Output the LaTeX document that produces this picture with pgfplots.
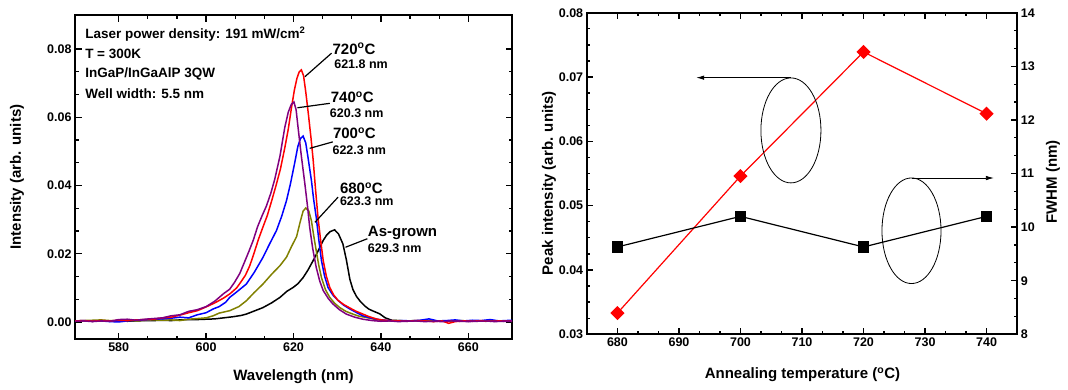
\documentclass[border=0pt]{standalone}
\usepackage{fontspec}
\setmainfont{Liberation Sans}
\usepackage{pgfplots}
\pgfplotsset{compat=1.18}
\usetikzlibrary{arrows.meta}
\definecolor{myolive}{RGB}{128,128,0}
\definecolor{mypurple}{RGB}{128,0,128}
\newcommand{\infofont}{\bfseries\fontsize{13.5}{16}\selectfont}
\newcommand{\tlabfont}{\bfseries\fontsize{15}{18}\selectfont}
\newcommand{\wlabfont}{\bfseries\fontsize{12.5}{15}\selectfont}
\pgfplotsset{
  mystyle/.style={
    scale only axis,
    axis line style={line width=1.8pt},
    tick style={black, line width=1.3pt},
    major tick length=6.5pt, minor tick length=3.5pt,
    tick align=inside,
    scaled y ticks=false, scaled x ticks=false,
    /pgf/number format/assume math mode=true,
    ticklabel style={font=\bfseries\fontsize{12.5}{14}\selectfont},
    label style={font=\bfseries\fontsize{15}{18}\selectfont},
  },
  twodec/.style={yticklabel style={/pgf/number format/fixed, /pgf/number format/fixed zerofill, /pgf/number format/precision=2}}
}
\begin{document}
\begin{tikzpicture}
\path[use as bounding box] (0,0) rectangle (1068pt,389pt);
% ---------------- left panel ----------------
\begin{axis}[mystyle, twodec, at={(75pt,50pt)}, anchor=south west,
  width=437pt, height=324pt,
  xmin=570, xmax=670, ymin=-0.005, ymax=0.09,
  xtick={580,600,620,640,660}, ytick={0,0.02,0.04,0.06,0.08},
  minor x tick num=2, minor y tick num=2,
  xlabel={Wavelength (nm)}, ylabel={Intensity (arb. units)},
  xlabel style={at={(axis description cs:0.5,-0.116)},anchor=center},
  ylabel style={at={(axis description cs:-0.133,0.5)},anchor=center},
  every axis plot/.append style={line width=1.5pt, no markers}]
\addplot[black] coordinates {(570,0.0002)(572,0.0003)(574,0.0002)(576,0.0003)(578,0.0002)(580,0.0003)(582,0.0002)(584,0.0003)(586,0.0004)(588,0.0004)(590,0.0005)(592,0.0004)(594,0.0006)(596,0.0007)(598,0.0007)(600,0.0008)(602,0.0009)(604,0.0012)(606,0.0015)(608,0.0019)(609.2,0.0023)(611,0.0032)(613,0.0042)(615,0.0056)(616.9,0.0072)(618.5,0.0090)(619.9,0.0101)(621,0.0112)(622.2,0.0130)(623.3,0.0152)(624.5,0.0180)(625.7,0.0210)(626.8,0.0239)(627.6,0.0255)(628.4,0.0265)(629.4,0.0270)(630.3,0.0258)(631.3,0.0229)(632.1,0.0182)(632.9,0.0125)(633.6,0.0095)(634.4,0.0075)(635.3,0.0060)(636.3,0.0047)(637.2,0.0038)(638.2,0.0032)(639.7,0.0024)(641,0.0012)(642.5,0.0005)(644,0.0004)(646,0.0003)(648,0.0004)(650,0.0003)(652,0.0002)(654,0.0003)(656,0.0002)(658,0.0003)(660,0.0002)(662,0.0003)(664,0.0002)(666,0.0003)(668,0.0002)(670,0.0003)};
\addplot[myolive] coordinates {(570,0.0003)(572,0.0004)(574,0.0005)(576,0.0006)(578,0.0004)(580,0.0003)(582,0.0004)(584,0.0003)(586,0.0005)(588,0.0006)(590,0.0005)(592,0.0006)(594,0.0004)(596,0.0008)(598,0.0010)(600,0.0012)(601.6,0.0018)(603,0.0026)(605.4,0.0033)(607.5,0.0045)(609.2,0.0062)(611,0.0086)(613,0.0111)(615,0.0140)(616.9,0.0165)(618.4,0.0190)(619.5,0.0220)(620.7,0.0250)(621.5,0.0292)(622.2,0.0325)(622.8,0.0334)(623.5,0.0325)(624.1,0.0297)(624.6,0.0255)(625.2,0.0209)(625.8,0.0165)(626.4,0.0130)(627.3,0.0095)(628.3,0.0072)(629.4,0.0055)(630.6,0.0042)(632,0.0031)(633.6,0.0023)(635,0.0017)(636.7,0.0013)(638.5,0.0008)(640,0.0005)(642,0.0003)(644,0.0004)(646,0.0002)(648,0.0003)(650,0.0004)(652,0.0002)(654,0.0003)(656,0.0002)(658,0.0004)(660,0.0003)(662,0.0002)(664,0.0003)(666,0.0002)(668,0.0003)(670,0.0002)};
\addplot[blue] coordinates {(570,0.0003)(572,0.0004)(574,0.0002)(576,0.0003)(578,0.0001)(580,0.0000)(582,0.0003)(584,0.0005)(586,0.0006)(588,0.0008)(590,0.0009)(592,0.0011)(594,0.0014)(596,0.0012)(598,0.0021)(600,0.0027)(601.6,0.0038)(603,0.0045)(604.5,0.0058)(605.4,0.0072)(607,0.0088)(609.2,0.0111)(611,0.0145)(613,0.0189)(614.5,0.0228)(616.1,0.0268)(617.3,0.0310)(618.4,0.0356)(619.3,0.0405)(620.3,0.0468)(621.0,0.0515)(621.6,0.0538)(622.2,0.0545)(622.8,0.0525)(623.3,0.0484)(624.1,0.0415)(624.6,0.0360)(625.2,0.0307)(625.8,0.0240)(626.4,0.0180)(627.1,0.0135)(627.9,0.0101)(629,0.0079)(630.2,0.0063)(631.5,0.0049)(632.9,0.0038)(634.5,0.0027)(635.9,0.0018)(637.5,0.0012)(639,0.0008)(641,0.0005)(643,0.0003)(645,0.0004)(647,0.0003)(649,0.0005)(651,0.0009)(653,0.0003)(655,0.0004)(657,0.0006)(659,0.0003)(661,0.0005)(663,0.0004)(665,0.0007)(667,0.0003)(670,0.0005)};
\addplot[red] coordinates {(570,0.0003)(572,0.0004)(574,0.0002)(576,0.0004)(578,0.0003)(580,0.0005)(582,0.0004)(584,0.0006)(586,0.0007)(588,0.0008)(590,0.0012)(592,0.0014)(594,0.0020)(596,0.0027)(598,0.0033)(600,0.0044)(602,0.0056)(604,0.0070)(605.5,0.0083)(607,0.0100)(608,0.0118)(609,0.0137)(610,0.0165)(611,0.0203)(612,0.0243)(613,0.0278)(614,0.0312)(615,0.0355)(616,0.0400)(617,0.0448)(618,0.0510)(618.8,0.0565)(619.5,0.0625)(620.2,0.0680)(620.8,0.0715)(621.3,0.0733)(621.8,0.0739)(622.3,0.0722)(622.8,0.0675)(623.4,0.0610)(624.0,0.0540)(624.5,0.0475)(625.0,0.0395)(625.6,0.0307)(626.2,0.0240)(626.8,0.0180)(627.5,0.0135)(628.3,0.0101)(629.2,0.0079)(630.2,0.0063)(631.5,0.0051)(632.9,0.0041)(634.2,0.0032)(635.9,0.0023)(637.2,0.0016)(638.9,0.0009)(640,0.0006)(642,0.0004)(644,0.0003)(646,0.0002)(648,0.0004)(650,0.0003)(652,0.0001)(654,0.0003)(655.5,-0.0004)(657,0.0001)(659,0.0003)(661,0.0002)(663,0.0004)(665,0.0002)(667,0.0003)(670,0.0002)};
\addplot[mypurple] coordinates {(570,0.0002)(572,0.0003)(574,0.0001)(576,0.0003)(578,0.0002)(580,0.0007)(582,0.0008)(584,0.0005)(586,0.0008)(588,0.0010)(590,0.0012)(592,0.0018)(594,0.0021)(596,0.0031)(598,0.0036)(600,0.0045)(602,0.0061)(604,0.0083)(605.4,0.0096)(606.5,0.0116)(607.7,0.0142)(608.8,0.0176)(609.8,0.0207)(610.8,0.0240)(611.8,0.0280)(612.8,0.0311)(613.8,0.0340)(614.8,0.0377)(615.7,0.0418)(616.9,0.0486)(618.0,0.0570)(618.8,0.0615)(619.5,0.0638)(620.1,0.0645)(620.6,0.0622)(621.0,0.0575)(621.8,0.0486)(622.6,0.0405)(623.2,0.0340)(623.7,0.0278)(624.4,0.0215)(625.2,0.0160)(626.0,0.0120)(626.8,0.0092)(628.0,0.0068)(629.0,0.0053)(630.5,0.0036)(632.1,0.0023)(634,0.0014)(635.9,0.0008)(638,0.0004)(640,0.0002)(642,0.0003)(644,0.0001)(646,0.0002)(648,0.0003)(650,0.0001)(652,0.0002)(654,0.0001)(656,0.0003)(658,0.0002)(660,0.0001)(662,0.0002)(664,0.0003)(666,0.0001)(668,0.0002)(670,0.0002)};
% info text
\node[anchor=base west, inner sep=0, font=\infofont] at (axis cs:572.3,0.0831) {Laser power density: 191 mW/cm\textsuperscript{2}};
\node[anchor=base west, inner sep=0, font=\infofont] at (axis cs:572.3,0.0772) {T = 300K};
\node[anchor=base west, inner sep=0, font=\infofont] at (axis cs:572.3,0.0717) {InGaP/InGaAlP 3QW};
\node[anchor=base west, inner sep=0, font=\infofont] at (axis cs:572.3,0.0656) {Well width: 5.5 nm};
% peak labels
\node[anchor=base west, inner sep=0, font=\tlabfont] at (axis cs:628.9,0.0785) {720\textsuperscript{o}C};
\node[anchor=base west, inner sep=0, font=\wlabfont] at (axis cs:629.3,0.0744) {621.8 nm};
\node[anchor=base west, inner sep=0, font=\tlabfont] at (axis cs:628.5,0.0642) {740\textsuperscript{o}C};
\node[anchor=base west, inner sep=0, font=\wlabfont] at (axis cs:628.3,0.0600) {620.3 nm};
\node[anchor=base west, inner sep=0, font=\tlabfont] at (axis cs:629.0,0.0537) {700\textsuperscript{o}C};
\node[anchor=base west, inner sep=0, font=\wlabfont] at (axis cs:628.9,0.0492) {622.3 nm};
\node[anchor=base west, inner sep=0, font=\tlabfont] at (axis cs:630.6,0.0377) {680\textsuperscript{o}C};
\node[anchor=base west, inner sep=0, font=\wlabfont] at (axis cs:630.6,0.0341) {623.3 nm};
\node[anchor=base west, inner sep=0, font=\tlabfont] at (axis cs:637.0,0.0252) {As-grown};
\node[anchor=base west, inner sep=0, font=\wlabfont] at (axis cs:637.0,0.0204) {629.3 nm};
% leader lines
\draw[line width=1.2pt] (axis cs:622.6,0.0719) -- (axis cs:628.7,0.0788);
\draw[line width=1.2pt] (axis cs:620.9,0.0628) -- (axis cs:628.3,0.0641);
\draw[line width=1.2pt] (axis cs:623.7,0.0509) -- (axis cs:629.0,0.0528);
\draw[line width=1.2pt] (axis cs:624.9,0.0292) -- (axis cs:630.2,0.0366);
\draw[line width=1.2pt] (axis cs:631.9,0.0219) -- (axis cs:636.9,0.0244);
\end{axis}
% ---------------- right panel ----------------
\begin{axis}[mystyle, twodec, at={(586.7pt,54.7pt)}, anchor=south west,
  width=430.6pt, height=321.6pt,
  xmin=675, xmax=745, ymin=0.03, ymax=0.08,
  xtick={680,690,700,710,720,730,740}, ytick={0.03,0.04,0.05,0.06,0.07,0.08},
  minor x tick num=2, minor y tick num=3,
  xtick pos=both, ytick pos=left,
  xlabel={Annealing temperature (\textsuperscript{o}C)}, ylabel={Peak intensity (arb. units)},
  xlabel style={at={(axis description cs:0.501,-0.127)},anchor=center},
  ylabel style={at={(axis description cs:-0.0876,0.47)},anchor=center}]
\addplot[red, line width=1.2pt, mark=square*, mark size=4.4pt, mark options={rotate=45, fill=red, draw=red}] coordinates {(680,0.0333)(700,0.0546)(720,0.0739)(740,0.0643)};
\draw[line width=0.8pt] (axis cs:708.2,0.0617) ellipse [x radius=4.88, y radius=0.00816];
\draw[line width=0.8pt, -{Latex[length=8pt,width=4.5pt]}] (axis cs:708.2,0.0699) -- (axis cs:692.8,0.0699);
\draw[line width=0.8pt] (axis cs:727.8,0.0461) ellipse [x radius=4.80, y radius=0.00821];
\draw[line width=0.8pt, -{Latex[length=8pt,width=4.5pt]}] (axis cs:727.8,0.0543) -- (axis cs:741.2,0.0543);
\end{axis}
\begin{axis}[mystyle, at={(586.7pt,54.7pt)}, anchor=south west,
  width=430.6pt, height=321.6pt,
  xmin=675, xmax=745, ymin=8, ymax=14,
  hide x axis, axis y line*=right,
  ytick={8,9,10,11,12,13,14}, minor y tick num=2,
  ylabel={FWHM (nm)},
  ylabel style={at={(axis description cs:1.083,0.474)},anchor=center}]
\addplot[black, line width=1.2pt, mark=square*, mark size=5pt, mark options={fill=black}] coordinates {(680,9.63)(700,10.20)(720,9.63)(740,10.20)};
\end{axis}
\end{tikzpicture}
\end{document}
